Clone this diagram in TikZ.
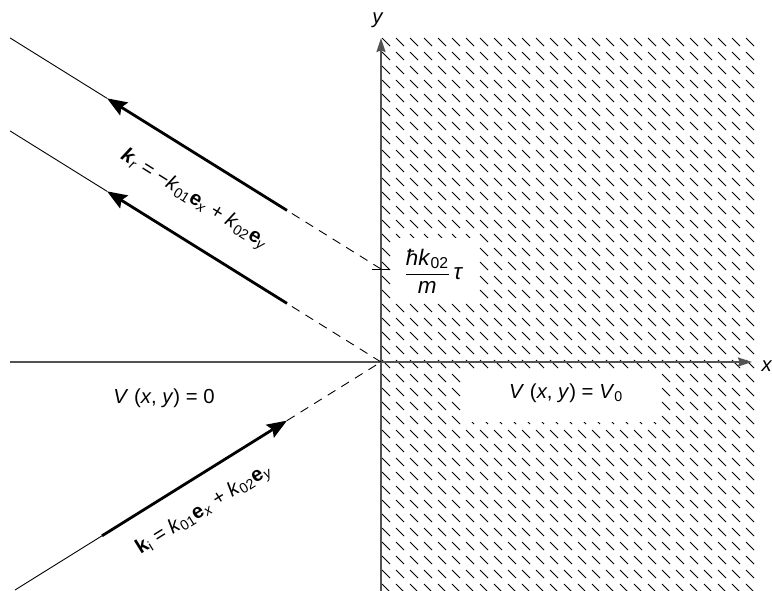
\documentclass[tikz,border=0pt]{standalone}
\usepackage{fontspec}
\setmainfont{Liberation Sans}
\usetikzlibrary{arrows.meta}
\begin{document}
\begin{tikzpicture}[x=1pt,y=-1pt,
  lbl/.style={font=\fontsize{20.3}{24}\selectfont, inner sep=0pt},
  axisline/.style={draw=black!68, line width=1.6pt, -{Stealth[length=14pt,width=9pt,inset=1.5pt]}},
  thinline/.style={line width=0.9pt},
  thickline/.style={line width=2.8pt, -{Stealth[length=20pt,width=15pt,inset=3pt]}},
  dashline/.style={line width=0.9pt, dash pattern=on 9pt off 7pt},
  hatchline/.style={line width=0.95pt}]
\useasboundingbox (0,0) rectangle (772,591);
\clip (0,0) rectangle (772,591);
% hatching of the region x>0
\foreach \i in {0,...,26} {
  \foreach \j in {0,...,39} {
    \draw[hatchline] ({382+14*\i},{38+14*\j}) -- ++(8,8);
  }
}
% white cut-outs behind the labels
\fill[white] (392,238) rectangle (479,302);
\fill[white] (464,369) rectangle (661,422);
% points
\coordinate (O) at (381,362);
\coordinate (P) at (381,269);
\coordinate (A1) at (10,37.9);
\coordinate (T1) at (107,98.3);
\coordinate (E1) at (287,210.4);
\coordinate (A2) at (10,130.9);
\coordinate (T2) at (107,191.3);
\coordinate (E2) at (287,303.4);
\coordinate (A3) at (15,590);
\coordinate (S3) at (102,535.8);
\coordinate (T3) at (287,420.6);
\coordinate (XL) at (10,362);
\coordinate (XR) at (752,362);
\coordinate (YB) at (381,595);
\coordinate (YT) at (381,38);
\coordinate (TL) at (372,269);
\coordinate (TR) at (390,269);
% axes
\draw[axisline] (XL) -- (XR);
\draw[axisline] (YB) -- (YT);
\draw[thinline] (TL) -- (TR);
% reflected rays
\draw[thinline] (T1) -- (A1);
\draw[thickline] (E1) -- (T1);
\draw[dashline] (P) -- (E1);
\draw[thinline] (T2) -- (A2);
\draw[thickline] (E2) -- (T2);
\draw[dashline] (O) -- (E2);
% incident ray
\draw[thinline] (A3) -- (S3);
\draw[thickline] (S3) -- (T3);
\draw[dashline] (T3) -- (O);
% labels
\node[lbl] (xlab) at (767,366) {\textit{x}};
\node[lbl] (ylab) at (378,20) {\textit{y}};
\node[lbl, rotate=-31.9] (kr) at (194,200)
  {\textbf{\textit{k}}\textsubscript{\textit{r}} = −\textit{k}\textsubscript{01}\textbf{e}\textsubscript{\textit{x}} + \textit{k}\textsubscript{02}\textbf{e}\textsubscript{\textit{y}}};
\node[lbl, rotate=31.9] (ki) at (204,510)
  {\textbf{k}\textsubscript{i} = \textit{k}\textsubscript{01}\textbf{e}\textsubscript{\textit{x}} + \textit{k}\textsubscript{02}\textbf{e}\textsubscript{\textit{y}}};
\node[lbl] (v0) at (164,398) {\textit{V} (\textit{x}, \textit{y}) = 0};
\node[lbl] (v1) at (566,393) {\textit{V} (\textit{x}, \textit{y}) = \textit{V}\textsubscript{0}};
\node[lbl, font=\fontsize{22.5}{26}\selectfont] (frac) at (434,271)
  {$\displaystyle\frac{\mbox{\textit{ħk}\textsubscript{02}}}{\mbox{\textit{m}}}$\,\textit{τ}};
\end{tikzpicture}
\end{document}
